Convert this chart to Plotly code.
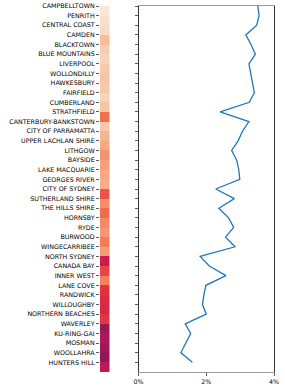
import plotly.graph_objects as go

councils = [
    "CAMPBELLTOWN", "PENRITH", "CENTRAL COAST", "CAMDEN", "BLACKTOWN",
    "BLUE MOUNTAINS", "LIVERPOOL", "WOLLONDILLY", "HAWKESBURY", "FAIRFIELD",
    "CUMBERLAND", "STRATHFIELD", "CANTERBURY-BANKSTOWN", "CITY OF PARRAMATTA",
    "UPPER LACHLAN SHIRE", "LITHGOW", "BAYSIDE", "LAKE MACQUARIE",
    "GEORGES RIVER", "CITY OF SYDNEY", "SUTHERLAND SHIRE", "THE HILLS SHIRE",
    "HORNSBY", "RYDE", "BURWOOD", "WINGECARRIBEE", "NORTH SYDNEY",
    "CANADA BAY", "INNER WEST", "LANE COVE", "RANDWICK", "WILLOUGHBY",
    "NORTHERN BEACHES", "WAVERLEY", "KU-RING-GAI", "MOSMAN", "WOOLLAHRA",
    "HUNTERS HILL",
]

# heat column values (normalised 0..1 on the rocket scale)
heat_values = [
    0.99, 0.97, 0.96, 0.88, 0.92, 0.94, 0.91, 0.90, 0.91, 0.94,
    0.90, 0.70, 0.91, 0.86, 0.83, 0.78, 0.81, 0.83, 0.84, 0.64,
    0.77, 0.69, 0.76, 0.79, 0.73, 0.80, 0.50, 0.61, 0.74, 0.57,
    0.55, 0.54, 0.58, 0.37, 0.43, 0.39, 0.35, 0.47,
]

# line values (percent)
pct_values = [
    3.52, 3.56, 3.49, 3.17, 3.32, 3.45, 3.26, 3.31, 3.35, 3.42,
    3.27, 2.41, 3.26, 3.07, 2.94, 2.75, 2.90, 2.96, 2.99, 2.28,
    2.83, 2.37, 2.66, 2.81, 2.57, 2.85, 1.82, 2.09, 2.58, 1.99,
    1.93, 1.89, 2.00, 1.38, 1.54, 1.40, 1.25, 1.59,
]

x_ticks = [0, 2, 4]
x_ticklabels = ["0%", "2%", "4%"]

rocket = [
    [0.0, "#03051a"], [1 / 7, "#35193e"], [2 / 7, "#701f57"],
    [3 / 7, "#ad1759"], [0.5, "#cb1b4f"], [4 / 7, "#e13342"],
    [5 / 7, "#f37651"], [6 / 7, "#f6b48f"], [1.0, "#faebdd"],
]

n = len(councils)
idx = list(range(n))

fig = go.Figure()
fig.add_trace(go.Heatmap(
    z=[[v] for v in heat_values],
    x=[0],
    y=[i + 0.5 for i in idx],
    colorscale=rocket, zmin=0, zmax=1, showscale=False,
    xaxis="x", yaxis="y", hoverinfo="skip",
))
fig.add_trace(go.Scatter(
    x=pct_values, y=idx, mode="lines",
    line=dict(color="#1f77b4", width=1.3),
    xaxis="x2", yaxis="y2", showlegend=False, hoverinfo="skip",
))

H = 388
W = 285
ytop = 1 - 6 / H
ybot = 1 - 372 / H
font = dict(family="DejaVu Sans", size=6.35, color="#000000")

fig.update_layout(
    width=W, height=H,
    margin=dict(l=0, r=0, t=0, b=0, autoexpand=False),
    paper_bgcolor="white", plot_bgcolor="white",
    font=font,
    xaxis=dict(domain=[100 / W, 109.5 / W], range=[-0.5, 0.5],
               showticklabels=False, ticks="", showgrid=False,
               zeroline=False, showline=False),
    yaxis=dict(domain=[ybot, ytop], range=[n, 0], tickmode="array",
               tickvals=idx, ticktext=councils, ticks="outside",
               ticklen=3, tickwidth=0.8, tickcolor="#333333",
               showgrid=False, zeroline=False, showline=False,
               tickfont=font, anchor="x"),
    xaxis2=dict(domain=[138.5 / W, 274 / W], range=[0, 4],
                tickmode="array", tickvals=x_ticks, ticktext=x_ticklabels,
                ticks="outside", ticklen=3, tickwidth=0.8,
                tickcolor="#333333", showgrid=False, zeroline=False,
                showline=True, linecolor="#9a9a9a", linewidth=1.2,
                mirror=True, anchor="y2", tickfont=font),
    yaxis2=dict(domain=[ybot, ytop], range=[n, 0], tickmode="array",
                tickvals=idx, showticklabels=False, ticks="outside",
                ticklen=3, tickwidth=0.8, tickcolor="#333333",
                showgrid=False, zeroline=False, showline=True,
                linecolor="#333333", linewidth=1, mirror=True,
                anchor="x2"),
)

fig.write_html(
    "out.html",
    config={"displayModeBar": False, "staticPlot": True},
    post_script="document.body.style.margin='0';document.body.style.overflow='hidden';",
)
